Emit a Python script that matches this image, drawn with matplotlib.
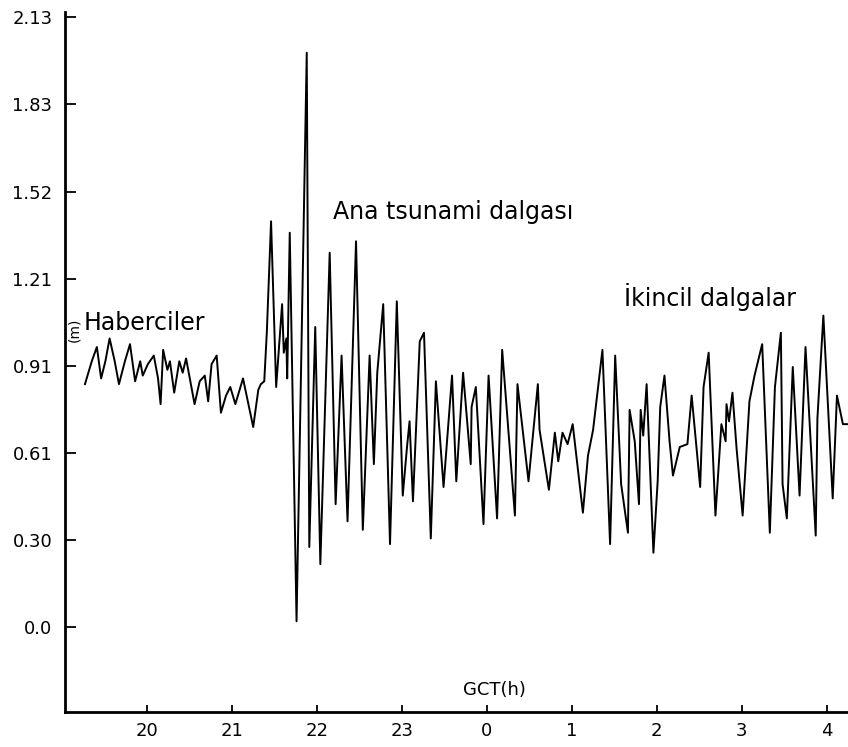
import matplotlib
matplotlib.use("Agg")
import matplotlib.pyplot as plt
import numpy as np

# Time in hours (continuous; values above 24 are after midnight)
hours = [19.27, 19.32, 19.35, 19.41, 19.46, 19.51, 19.56, 19.62, 19.67, 19.74,
         19.80, 19.86, 19.92, 19.95, 20.01, 20.08, 20.13, 20.16, 20.19, 20.24,
         20.27, 20.32, 20.38, 20.42, 20.46, 20.51, 20.56, 20.62, 20.68, 20.72,
         20.76, 20.82, 20.87, 20.93, 20.98, 21.04, 21.13, 21.25, 21.31, 21.34,
         21.38, 21.41, 21.46, 21.52, 21.59, 21.61, 21.64, 21.65, 21.68, 21.76,
         21.88, 21.91, 21.98, 22.04, 22.15, 22.22, 22.29, 22.36, 22.46, 22.54,
         22.62, 22.67, 22.71, 22.78, 22.86, 22.94, 23.01, 23.06, 23.09, 23.13,
         23.21, 23.26, 23.34, 23.40, 23.49, 23.59, 23.64, 23.72, 23.81, 23.82,
         23.87, 23.96, 24.02, 24.12, 24.18, 24.33, 24.36, 24.49, 24.60, 24.62,
         24.73, 24.80, 24.84, 24.89, 24.95, 25.01, 25.08, 25.13, 25.19, 25.25,
         25.36, 25.45, 25.51, 25.58, 25.66, 25.68, 25.74, 25.79, 25.81, 25.84,
         25.88, 25.96, 26.01, 26.04, 26.09, 26.15, 26.19, 26.27, 26.36, 26.41,
         26.51, 26.55, 26.61, 26.69, 26.76, 26.81, 26.82, 26.85, 26.89, 26.94,
         27.01, 27.09, 27.15, 27.24, 27.33, 27.39, 27.46, 27.48, 27.53, 27.60,
         27.68, 27.75, 27.87, 27.89, 27.96, 28.07, 28.12, 28.19, 28.25]

# Sea level (m)
level = [0.85, 0.90, 0.93, 0.98, 0.87, 0.93, 1.01, 0.93, 0.85, 0.93,
         0.99, 0.86, 0.93, 0.88, 0.92, 0.95, 0.87, 0.78, 0.97, 0.90,
         0.93, 0.82, 0.93, 0.89, 0.94, 0.86, 0.78, 0.86, 0.88, 0.79,
         0.92, 0.95, 0.75, 0.81, 0.84, 0.78, 0.87, 0.70, 0.83, 0.85,
         0.86, 1.03, 1.42, 0.84, 1.13, 0.96, 1.01, 0.87, 1.38, 0.02,
         2.01, 0.28, 1.05, 0.22, 1.31, 0.43, 0.95, 0.37, 1.35, 0.34,
         0.95, 0.57, 0.89, 1.13, 0.29, 1.14, 0.46, 0.63, 0.72, 0.44,
         1.00, 1.03, 0.31, 0.86, 0.49, 0.88, 0.51, 0.89, 0.57, 0.77,
         0.84, 0.36, 0.88, 0.38, 0.97, 0.39, 0.85, 0.51, 0.85, 0.69,
         0.48, 0.68, 0.58, 0.68, 0.64, 0.71, 0.53, 0.40, 0.60, 0.69,
         0.97, 0.29, 0.95, 0.50, 0.33, 0.76, 0.65, 0.43, 0.76, 0.67,
         0.85, 0.26, 0.51, 0.77, 0.88, 0.65, 0.53, 0.63, 0.64, 0.81,
         0.49, 0.84, 0.96, 0.39, 0.71, 0.65, 0.78, 0.72, 0.82, 0.62,
         0.39, 0.79, 0.88, 0.99, 0.33, 0.84, 1.03, 0.50, 0.38, 0.91,
         0.46, 0.98, 0.32, 0.73, 1.09, 0.45, 0.81, 0.71, 0.71]

# Tick values / labels
ytick_ft = [0, 1, 2, 3, 4, 5, 6, 7]
ytick_labels = ["0.0", "0.30", "0.61", "0.91", "1.21", "1.52", "1.83", "2.13"]
xtick_vals = [20, 21, 22, 23, 24, 25, 26, 27, 28]
xtick_labels = ["20", "21", "22", "23", "0", "1", "2", "3", "4"]

plt.rcParams['font.family'] = ['DejaVu Sans']

W, H = 848, 747
fig = plt.figure(figsize=(W / 100, H / 100), dpi=100)
ax = fig.add_axes([65 / W, (H - 712) / H, (W - 65) / W, (712 - 12) / H])

ax.plot(hours, level, color='black', lw=1.4)

ax.set_xlim(19.035, 28.25)
ax.set_ylim(-0.2975, 2.1525)

ax.set_yticks([v * 0.3048 for v in ytick_ft])
ax.set_yticklabels(ytick_labels)
ax.set_xticks(xtick_vals)
ax.set_xticklabels(xtick_labels)

ax.tick_params(axis='y', direction='in', length=8, width=1.3, pad=9,
               labelsize=13, colors='black')
ax.tick_params(axis='x', direction='in', length=5, width=1.3, pad=7,
               labelsize=13, colors='black')

for s in ['top', 'right']:
    ax.spines[s].set_visible(False)
for s in ['left', 'bottom']:
    ax.spines[s].set_linewidth(2.0)
    ax.spines[s].set_color('black')

def fx(px):
    return px / W

def fy(py):
    return 1 - py / H

fig.text(fx(84), fy(323), "Haberciler", fontsize=17, ha='left', va='center')
fig.text(fx(333), fy(212), "Ana tsunami dalgası", fontsize=17, ha='left', va='center')
fig.text(fx(624), fy(297), "İkincil dalgalar", fontsize=17, ha='left', va='center')
fig.text(fx(74), fy(330), "(m)", fontsize=10, rotation=90, ha='center', va='center')
fig.text(fx(494), fy(690), "GCT(h)", fontsize=13, ha='center', va='center')

fig.savefig("out.png", dpi=100, facecolor='white')
